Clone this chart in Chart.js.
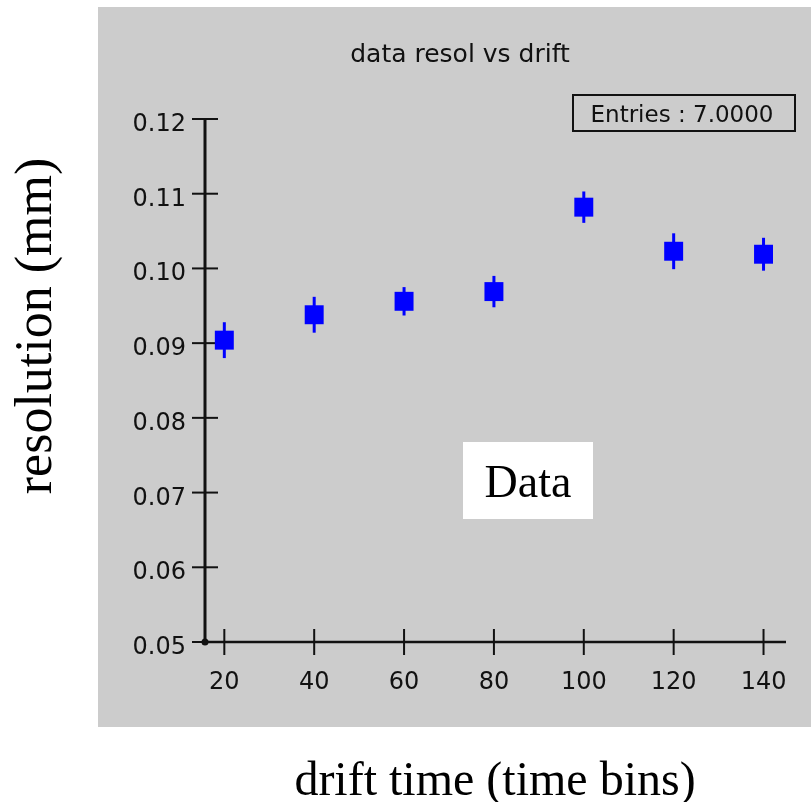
<!DOCTYPE html>
<html>
<head>
<meta charset="utf-8">
<title>data resol vs drift</title>
<script src="https://cdn.jsdelivr.net/npm/chart.js@4/dist/chart.umd.min.js"></script>
<style>
  html, body { margin: 0; padding: 0; background: #fff; }
  canvas { display: block; }
</style>
</head>
<body>
<canvas id="resolChart" width="811" height="802"></canvas>
<script>
// Drift time bins and measured resolution (mm) with errors
const driftTime = [20, 40, 60, 80, 100, 120, 140];
const resolution = [0.0904, 0.0938, 0.0956, 0.0969, 0.1082, 0.1023, 0.1019];
const resolutionErr = [0.0024, 0.0024, 0.0019, 0.0021, 0.0021, 0.0024, 0.0022];

// Tick labels
const xTicks = [20, 40, 60, 80, 100, 120, 140];
const yTicks = [0.05, 0.06, 0.07, 0.08, 0.09, 0.10, 0.11, 0.12];

const PANEL = '#cccccc';
const INK = '#111111';
const BLUE = '#0000ff';

// Axes, ticks, labels and boxes drawn around the scatter
const framePlugin = {
  id: 'frame',
  beforeDraw(chart) {
    const ctx = chart.ctx;
    ctx.save();
    ctx.fillStyle = '#ffffff';
    ctx.fillRect(0, 0, chart.width, chart.height);
    ctx.fillStyle = PANEL;
    ctx.fillRect(98, 7, chart.width - 98, 720);
    ctx.restore();
  },
  beforeDatasetsDraw(chart) {
    const ctx = chart.ctx;
    const xs = chart.scales.x, ys = chart.scales.y;
    const area = chart.chartArea;
    const x0 = xs.getPixelForValue(xs.min);
    const y0 = ys.getPixelForValue(ys.min);
    ctx.save();
    ctx.strokeStyle = INK;

    // axis lines
    ctx.lineWidth = 3;
    ctx.beginPath();
    ctx.moveTo(x0, ys.getPixelForValue(0.12));
    ctx.lineTo(x0, y0);
    ctx.stroke();
    ctx.lineWidth = 2.5;
    ctx.beginPath();
    ctx.moveTo(x0, y0);
    ctx.lineTo(area.right, y0);
    ctx.stroke();

    // ticks crossing the axes
    ctx.lineWidth = 2;
    ctx.font = '24px "DejaVu Sans"';
    ctx.fillStyle = INK;
    ctx.textAlign = 'right';
    ctx.textBaseline = 'alphabetic';
    yTicks.forEach(v => {
      const py = ys.getPixelForValue(v);
      ctx.beginPath();
      ctx.moveTo(x0 - 13, py);
      ctx.lineTo(x0 + 13, py);
      ctx.stroke();
      ctx.fillText(v.toFixed(2), 186, py + 12);
    });
    ctx.textAlign = 'center';
    xTicks.forEach(v => {
      const px = xs.getPixelForValue(v);
      ctx.beginPath();
      ctx.moveTo(px, y0 - 13);
      ctx.lineTo(px, y0 + 13);
      ctx.stroke();
      ctx.fillText(String(v), px, 689);
    });

    // origin dot
    ctx.beginPath();
    ctx.arc(x0, y0, 3.5, 0, Math.PI * 2);
    ctx.fill();

    // title
    ctx.font = '25px "DejaVu Sans"';
    ctx.fillText('data resol vs drift', 460, 62);

    // entries box
    ctx.lineWidth = 2;
    ctx.strokeRect(573, 95, 222, 36);
    ctx.font = '23px "DejaVu Sans"';
    ctx.fillText('Entries : 7.0000', 682, 122);

    // error bars
    const meta = chart.getDatasetMeta(0);
    ctx.strokeStyle = BLUE;
    ctx.lineWidth = 3;
    meta.data.forEach((pt, i) => {
      ctx.beginPath();
      ctx.moveTo(pt.x, ys.getPixelForValue(resolution[i] + resolutionErr[i]));
      ctx.lineTo(pt.x, ys.getPixelForValue(resolution[i] - resolutionErr[i]));
      ctx.stroke();
    });
    ctx.restore();
  },
  afterDraw(chart) {
    const ctx = chart.ctx;
    ctx.save();
    // "Data" label box
    ctx.fillStyle = '#ffffff';
    ctx.fillRect(463, 442, 130, 77);
    ctx.fillStyle = '#000000';
    ctx.textAlign = 'center';
    ctx.textBaseline = 'alphabetic';
    ctx.font = '46px "Liberation Serif"';
    ctx.fillText('Data', 528, 497);

    // axis titles
    ctx.font = '48px "Liberation Serif"';
    ctx.fillText('drift time (time bins)', 495, 795);
    ctx.translate(51, 326);
    ctx.rotate(-Math.PI / 2);
    ctx.font = '52px "Liberation Serif"';
    ctx.fillText('resolution (mm)', 0, 0);
    ctx.restore();
  }
};

const ctx = document.getElementById('resolChart').getContext('2d');

const chart = new Chart(ctx, {
  type: 'scatter',
  data: {
    datasets: [{
      label: 'data',
      data: driftTime.map((t, i) => ({ x: t, y: resolution[i] })),
      pointStyle: 'rect',
      pointRadius: 13.4,
      pointBackgroundColor: BLUE,
      pointBorderColor: BLUE,
      pointBorderWidth: 0,
      clip: false
    }]
  },
  options: {
    responsive: false,
    animation: false,
    events: [],
    layout: {
      padding: { left: 205, right: 25, top: 119, bottom: 160 }
    },
    plugins: {
      legend: { display: false },
      tooltip: { enabled: false },
      title: { display: false }
    },
    scales: {
      x: { type: 'linear', min: 15.7, max: 145, display: false },
      y: { type: 'linear', min: 0.05, max: 0.12, display: false }
    }
  },
  plugins: [framePlugin]
});
</script>
</body>
</html>
